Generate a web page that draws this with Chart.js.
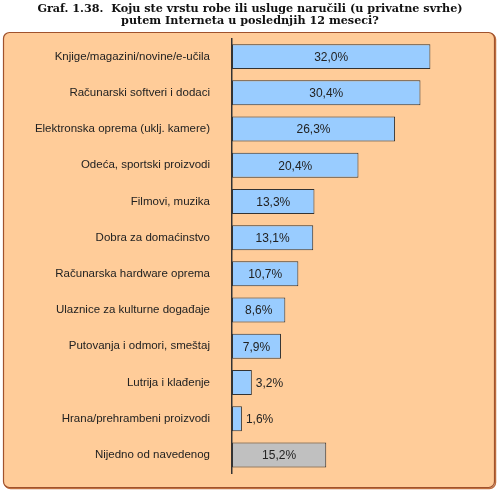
<!DOCTYPE html>
<html>
<head>
<meta charset="utf-8">
<script src="https://cdn.jsdelivr.net/npm/chart.js@4.4.1/dist/chart.umd.min.js"></script>
<style>
  html, body { margin: 0; padding: 0; background: #ffffff; }
  #wrap { width: 500px; height: 492px; position: relative; }
</style>
</head>
<body>
<div id="wrap"><canvas id="chart" width="500" height="492"></canvas></div>
<script>
// data
const categories = [
    'Knjige/magazini/novine/e-učila',
    'Računarski softveri i dodaci',
    'Elektronska oprema (uklj. kamere)',
    'Odeća, sportski proizvodi',
    'Filmovi, muzika',
    'Dobra za domaćinstvo',
    'Računarska hardware oprema',
    'Ulaznice za kulturne događaje',
    'Putovanja i odmori, smeštaj',
    'Lutrija i klađenje',
    'Hrana/prehrambeni proizvodi',
    'Nijedno od navedenog'
];
const values = [32.0, 30.4, 26.3, 20.4, 13.3, 13.1, 10.7, 8.6, 7.9, 3.2, 1.6, 15.2];
const barColors = ['#99ccff', '#99ccff', '#99ccff', '#99ccff', '#99ccff', '#99ccff',
    '#99ccff', '#99ccff', '#99ccff', '#99ccff', '#99ccff', '#c0c0c0'];
const titleLines = [
    'Graf. 1.38.  Koju ste vrstu robe ili usluge naručili (u privatne svrhe)',
    'putem Interneta u poslednjih 12 meseci?'
];

// orange rounded panel behind the chart
const panelPlugin = {
    id: 'panel',
    beforeDraw(chart) {
        const ctx = chart.ctx;
        const x = 3.5, y = 32.5, w = 491, h = 455, r = 6;
        ctx.save();
        function path(dx, dy) {
            ctx.beginPath();
            ctx.moveTo(x + r + dx, y + dy);
            ctx.arcTo(x + w + dx, y + dy, x + w + dx, y + h + dy, r);
            ctx.arcTo(x + w + dx, y + h + dy, x + dx, y + h + dy, r);
            ctx.arcTo(x + dx, y + h + dy, x + dx, y + dy, r);
            ctx.arcTo(x + dx, y + dy, x + w + dx, y + dy, r);
            ctx.closePath();
        }
        path(1, 1);
        ctx.strokeStyle = '#c07040';
        ctx.lineWidth = 1.5;
        ctx.stroke();
        path(0, 0);
        ctx.fillStyle = '#ffcc99';
        ctx.fill();
        ctx.strokeStyle = '#a0522d';
        ctx.lineWidth = 1.2;
        ctx.stroke();
        ctx.restore();
    }
};

// value labels: inside the bar if it fits, otherwise right of it
const valueLabels = {
    id: 'valueLabels',
    afterDatasetsDraw(chart) {
        const ctx = chart.ctx;
        const meta = chart.getDatasetMeta(0);
        ctx.save();
        ctx.font = '12px "Liberation Sans", Arial, sans-serif';
        ctx.fillStyle = '#222222';
        ctx.textBaseline = 'middle';
        meta.data.forEach((bar, i) => {
            const txt = values[i].toFixed(1).replace('.', ',') + '%';
            const tw = ctx.measureText(txt).width;
            const bw = bar.x - bar.base;
            if (bw > tw + 8) {
                ctx.textAlign = 'center';
                ctx.fillText(txt, bar.base + bw / 2, bar.y + 1);
            } else {
                ctx.textAlign = 'left';
                ctx.fillText(txt, bar.x + 4, bar.y + 1);
            }
        });
        ctx.restore();
    }
};

const ctx = document.getElementById('chart').getContext('2d');
const chart = new Chart(ctx, {
    type: 'bar',
    data: {
        labels: categories,
        datasets: [{
            data: values,
            backgroundColor: barColors,
            borderColor: '#333333',
            borderWidth: 1,
            borderSkipped: false,
            categoryPercentage: 0.69,
            barPercentage: 1.0
        }]
    },
    options: {
        indexAxis: 'y',
        responsive: false,
        animation: false,
        layout: { padding: { left: 20, top: 0, right: 20, bottom: 19 } },
        plugins: {
            legend: { display: false },
            tooltip: { enabled: false },
            title: {
                display: true,
                text: titleLines,
                color: '#111111',
                font: { family: '"DejaVu Serif", serif', size: 11.2, weight: 'bold', lineHeight: 1.05 },
                padding: { top: 3, bottom: 12 }
            }
        },
        scales: {
            x: {
                display: false,
                min: 0,
                max: 40
            },
            y: {
                afterFit(scale) {
                    // left edge of the plot sits at x = 232 (20 padding + 212)
                    scale.width = 212;
                    scale.paddingTop = 0;
                    scale.paddingBottom = 0;
                },
                grid: { display: false, drawTicks: false },
                border: { display: true, color: '#333333', width: 1.5 },
                ticks: {
                    padding: 22,
                    color: '#222222',
                    font: { family: '"Liberation Sans", Arial, sans-serif', size: 11.5 }
                }
            }
        }
    },
    plugins: [panelPlugin, valueLabels]
});
</script>
</body>
</html>
